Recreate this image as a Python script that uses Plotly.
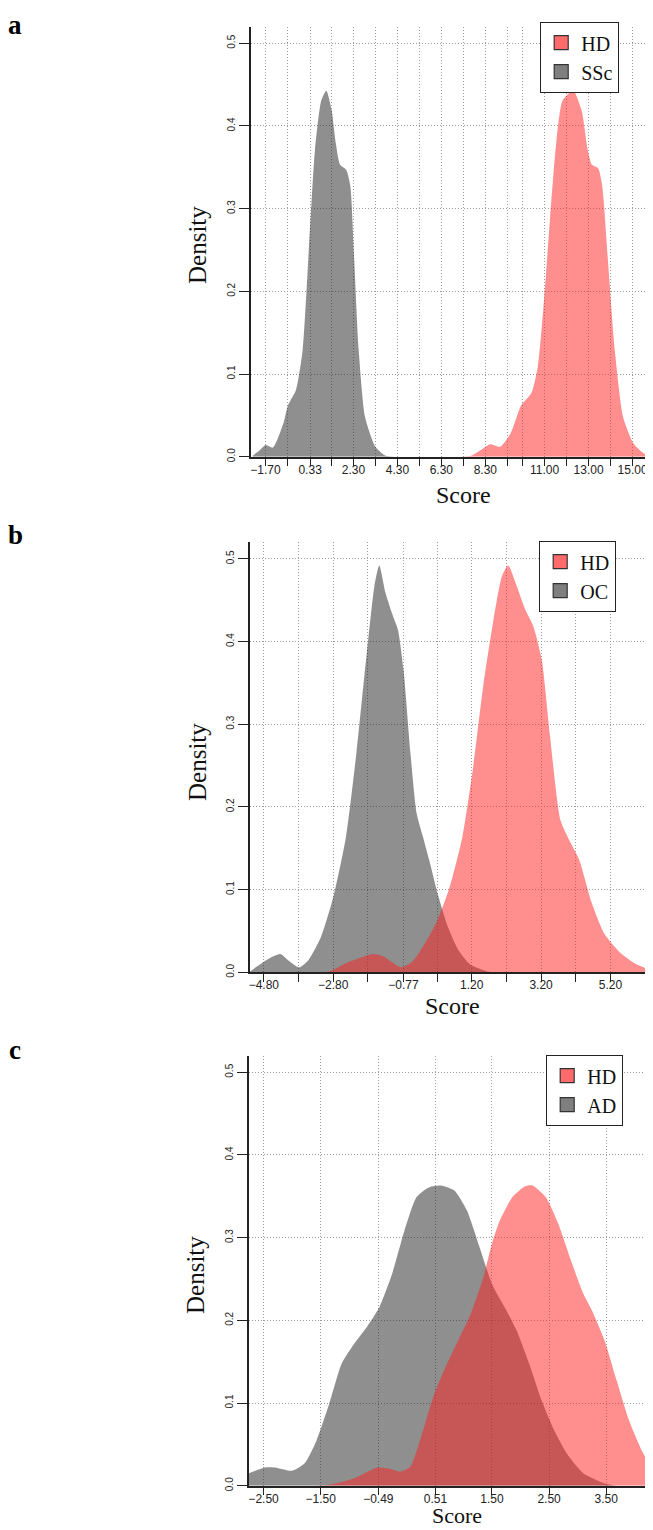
import plotly.graph_objects as go

# ---------------- data ----------------
panel_letters = ["a", "b", "c"]
group_names = [["HD", "SSc"], ["HD", "OC"], ["HD", "AD"]]

# Panel a
a_ssc_score = [-2.30, -2.24, -1.95, -1.70, -1.36, -0.89, -0.68, -0.31, -0.01, 0.27, 0.55, 0.84, 1.07,
               1.31, 1.50, 1.69, 1.97, 2.16, 2.35, 2.54, 2.83, 3.30, 3.77, 4.2]
a_ssc_dens = [0.0, 0.002, 0.008, 0.014, 0.011, 0.040, 0.062, 0.081, 0.129, 0.250, 0.371, 0.431, 0.4426,
              0.419, 0.379, 0.353, 0.347, 0.327, 0.230, 0.129, 0.048, 0.012, 0.001, 0.0]
a_hd_score = [7.2, 7.65, 8.1, 8.51, 8.98, 9.45, 9.93, 10.40, 10.69, 10.97, 11.25, 11.54, 11.82, 12.30,
              12.68, 12.96, 13.15, 13.43, 13.62, 13.90, 14.19, 14.57, 15.04, 15.52, 15.95]
a_hd_dens = [0.0, 0.001, 0.008, 0.015, 0.012, 0.028, 0.062, 0.077, 0.109, 0.189, 0.290, 0.383, 0.431, 0.4426,
             0.419, 0.371, 0.353, 0.349, 0.327, 0.230, 0.129, 0.048, 0.016, 0.004, 0.001]
a_tick_labels = ["\u22121.70", "0.33", "2.30", "4.30", "6.30", "8.30", "11.00", "13.00", "15.00"]
a_tick_vals = [-1.70, 0.33, 2.30, 4.30, 6.30, 8.30, 11.00, 13.00, 15.00]
a_minor_vals = [-0.69, 1.30, 3.30, 5.30, 7.30, 9.30, 10.00, 12.00, 14.00]
a_range = [-2.36, 15.93]

# Panel b
b_oc_score = [-5.20, -4.72, -4.33, -4.11, -3.78, -3.51, -3.15, -2.79, -2.43, -2.13, -1.83, -1.61, -1.47,
              -1.29, -1.11, -0.93, -0.77, -0.57, -0.39, -0.21, -0.03, 0.21, 0.51, 0.81, 1.17, 1.65, 2.0]
b_oc_dens = [0.001, 0.015, 0.022, 0.015, 0.006, 0.015, 0.043, 0.092, 0.164, 0.265, 0.386, 0.467, 0.492,
             0.459, 0.435, 0.414, 0.366, 0.265, 0.192, 0.164, 0.136, 0.096, 0.055, 0.027, 0.009, 0.001, 0.0]
b_hd_score = [-3.2, -2.91, -2.43, -1.65, -1.35, -0.85, -0.51, -0.15, 0.21, 0.57, 0.93, 1.23, 1.53, 1.83,
              2.07, 2.25, 2.50, 2.74, 2.98, 3.22, 3.46, 3.76, 4.06, 4.30, 4.66, 5.02, 5.50, 5.98, 6.43]
b_hd_dens = [0.0, 0.001, 0.011, 0.022, 0.019, 0.006, 0.013, 0.035, 0.063, 0.104, 0.164, 0.245, 0.346, 0.427,
             0.479, 0.492, 0.467, 0.439, 0.418, 0.378, 0.285, 0.184, 0.156, 0.136, 0.084, 0.047, 0.023,
             0.009, 0.002]
b_tick_labels = ["\u22124.80", "\u22122.80", "\u22120.77", "1.20", "3.20", "5.20"]
b_tick_vals = [-4.80, -2.80, -0.77, 1.20, 3.20, 5.20]
b_minor_vals = [-3.80, -1.80, 0.21, 2.20, 4.20, 6.20]
b_range = [-5.20, 6.43]

# Panel c
c_ad_score = [-2.755, -2.48, -2.30, -2.00, -1.78, -1.57, -1.35, -1.13, -0.91, -0.69, -0.47, -0.25, -0.03,
              0.18, 0.40, 0.61, 0.84, 1.06, 1.28, 1.50, 1.72, 1.93, 2.15, 2.37, 2.59, 2.81, 3.10, 3.46, 3.67]
c_ad_dens = [0.015, 0.022, 0.022, 0.018, 0.027, 0.055, 0.099, 0.148, 0.172, 0.192, 0.216, 0.256, 0.309,
             0.349, 0.361, 0.363, 0.357, 0.333, 0.289, 0.244, 0.216, 0.188, 0.148, 0.103, 0.067, 0.039,
             0.015, 0.003, 0.0]
c_hd_score = [-1.6, -1.35, -0.91, -0.51, -0.33, -0.11, 0.07, 0.26, 0.47, 0.69, 0.91, 1.13, 1.35, 1.50, 1.64,
              1.86, 2.08, 2.21, 2.44, 2.66, 2.88, 3.10, 3.25, 3.47, 3.68, 3.90, 4.12, 4.32]
c_hd_dens = [0.0, 0.001, 0.009, 0.022, 0.021, 0.017, 0.023, 0.059, 0.107, 0.144, 0.176, 0.208, 0.252, 0.293,
             0.321, 0.349, 0.362, 0.363, 0.349, 0.317, 0.273, 0.232, 0.212, 0.176, 0.128, 0.079, 0.043,
             0.019]
c_tick_labels = ["\u22122.50", "\u22121.50", "\u22120.49", "0.51", "1.50", "2.50", "3.50"]
c_tick_vals = [-2.50, -1.50, -0.49, 0.51, 1.50, 2.50, 3.50]
c_minor_vals = []
c_range = [-2.755, 4.32]

y_tick_vals = [0.0, 0.1, 0.2, 0.3, 0.4, 0.5]
y_tick_labels = ["0.0", "0.1", "0.2", "0.3", "0.4", "0.5"]

# ---------------- style / layout ----------------
PAGE_W, PAGE_H = 653, 1530
BODY_MARGIN = 8          # default page margin around the plot div
W, H = PAGE_W - BODY_MARGIN, PAGE_H - BODY_MARGIN

RED_FILL = "rgba(255,30,30,0.5)"
GREY_FILL = "rgba(40,40,40,0.52)"
RED_KEY = "#ff6b6b"
GREY_KEY = "#7f7f7f"
AXIS_COL = "#222222"
GRID_COL = "#9a9a9a"
GRID_DASH = "1px,2px"
SERIF = "Liberation Serif, Times New Roman, serif"
SANS = "Liberation Sans, Arial, sans-serif"


def px(x):
    return (x - BODY_MARGIN) / W


def py(y):
    return 1 - (y - BODY_MARGIN) / H


panels = [
    dict(other=(a_ssc_score, a_ssc_dens), hd=(a_hd_score, a_hd_dens), labels=a_tick_labels,
         vals=a_tick_vals, minor=a_minor_vals, xr=a_range, left=251, bottom=456.7,
         legend=(540, 22), density=(197, 245), score=(463, 495), letter=(15, 18), score_size=24),
    dict(other=(b_oc_score, b_oc_dens), hd=(b_hd_score, b_hd_dens), labels=b_tick_labels,
         vals=b_tick_vals, minor=b_minor_vals, xr=b_range, left=250, bottom=972.3,
         legend=(539, 541), density=(197, 762), score=(452, 1006), letter=(15, 535), score_size=24),
    dict(other=(c_ad_score, c_ad_dens), hd=(c_hd_score, c_hd_dens), labels=c_tick_labels,
         vals=c_tick_vals, minor=c_minor_vals, xr=c_range, left=249, bottom=1485.7,
         legend=(546, 1055), density=(195, 1275), score=(457, None), letter=(15, 1050), score_size=22),
]
Y_MAX = 0.52
PLOT_H = 430

fig = go.Figure()
annotations = []
layout = {}

for i, p in enumerate(panels):
    n = "" if i == 0 else str(i + 1)
    xa, ya = "x" + n, "y" + n
    leg = "legend" + n
    # grey (other group) first, then HD on top
    fig.add_trace(go.Scatter(x=p["other"][0], y=p["other"][1], xaxis=xa, yaxis=ya, mode="lines",
                             fill="tozeroy", fillcolor=GREY_FILL,
                             line=dict(width=0, shape="spline", smoothing=0.6),
                             showlegend=False, hoverinfo="skip"))
    fig.add_trace(go.Scatter(x=p["hd"][0], y=p["hd"][1], xaxis=xa, yaxis=ya, mode="lines",
                             fill="tozeroy", fillcolor=RED_FILL,
                             line=dict(width=0, shape="spline", smoothing=0.6),
                             showlegend=False, hoverinfo="skip"))
    # legend keys
    for name, col in zip(group_names[i], [RED_KEY, GREY_KEY]):
        fig.add_trace(go.Scatter(x=[None], y=[None], xaxis=xa, yaxis=ya, mode="markers", name=name,
                                 marker=dict(symbol="square", size=14, color=col,
                                             line=dict(color="#333333", width=1.2)),
                                 legend=leg, showlegend=True))

    bottom = p["bottom"]
    top = bottom - PLOT_H
    ydom = [py(bottom), py(top)]
    xdom = [px(p["left"]), 1.0]

    layout["xaxis" + n] = dict(
        domain=xdom, range=p["xr"], anchor=ya, tickmode="array", tickvals=p["vals"], ticktext=p["labels"],
        ticks="outside", ticklen=8, tickwidth=1, tickcolor=AXIS_COL, ticklabelstandoff=-7,
        showgrid=True, gridcolor=GRID_COL, gridwidth=1, griddash=GRID_DASH,
        minor=dict(tickmode="array", tickvals=p["minor"], ticks="outside", ticklen=8, tickwidth=1,
                   tickcolor=AXIS_COL, showgrid=True, gridcolor=GRID_COL, gridwidth=1, griddash=GRID_DASH),
        showline=True, linecolor=AXIS_COL, linewidth=1.5, zeroline=False,
        tickfont=dict(family=SANS, size=12, color="#222222"), automargin=False, fixedrange=True)
    layout["yaxis" + n] = dict(
        domain=ydom, range=[0, Y_MAX], anchor=xa, tickmode="array", tickvals=y_tick_vals,
        ticktext=y_tick_labels,
        ticks="outside", ticklen=10, tickwidth=1, tickcolor=AXIS_COL, tickangle=-90,
        showgrid=True, gridcolor=GRID_COL, gridwidth=1, griddash=GRID_DASH,
        showline=True, linecolor=AXIS_COL, linewidth=1.5, zeroline=False,
        tickfont=dict(family=SANS, size=10, color="#222222"), automargin=False, fixedrange=True)
    layout[leg] = dict(
        x=px(p["legend"][0]), y=py(p["legend"][1]), xanchor="left", yanchor="top",
        bgcolor="white", bordercolor="#222222", borderwidth=1.2,
        font=dict(family=SERIF, size=20, color="#111111"), tracegroupgap=0, itemsizing="trace")

    annotations.append(dict(text="Density", x=px(p["density"][0]), y=py(p["density"][1]),
                            xref="paper", yref="paper", showarrow=False, textangle=-90,
                            xanchor="center", yanchor="middle",
                            font=dict(family=SERIF, size=25, color="#111111")))
    if p["score"][1] is None:
        score_pos = dict(y=0.0, yanchor="bottom")
    else:
        score_pos = dict(y=py(p["score"][1]), yanchor="middle")
    annotations.append(dict(text="Score", x=px(p["score"][0]), xref="paper", yref="paper",
                            showarrow=False, xanchor="center",
                            font=dict(family=SERIF, size=p["score_size"], color="#111111"), **score_pos))
    if i == 0:
        letter_pos = dict(y=1.0, yanchor="top")
    else:
        letter_pos = dict(y=py(p["letter"][1]), yanchor="middle")
    annotations.append(dict(text="<b>" + panel_letters[i] + "</b>", x=px(p["letter"][0]),
                            xref="paper", yref="paper", showarrow=False, xanchor="center",
                            font=dict(family=SERIF, size=27, color="#000000"), **letter_pos))

fig.update_layout(
    template="none", width=W, height=H, margin=dict(l=0, r=0, t=0, b=0, pad=0),
    paper_bgcolor="white", plot_bgcolor="white", annotations=annotations, hovermode=False,
    **layout)

fig.write_html("out.html")
